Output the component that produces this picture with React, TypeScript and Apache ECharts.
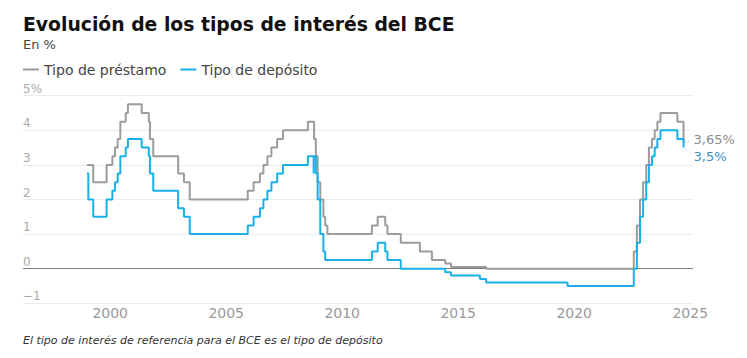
import React, { useEffect, useRef } from "react";
import * as echarts from "echarts";

const TITLE = "Evolución de los tipos de interés del BCE";
const SUBTITLE = "En %";
const FOOTNOTE = "El tipo de interés de referencia para el BCE es el tipo de depósito";
const SERIES_NAMES = ["Tipo de préstamo", "Tipo de depósito"];

const lendingDates = [
  "1999-01-01", "1999-04-09", "1999-11-05", "2000-02-04", "2000-03-17", "2000-04-28",
  "2000-06-09", "2000-09-01", "2000-10-06", "2001-05-11", "2001-08-31", "2001-09-18",
  "2001-11-09", "2002-12-06", "2003-03-07", "2003-06-06", "2005-12-06", "2006-03-08",
  "2006-06-15", "2006-08-09", "2006-10-11", "2006-12-13", "2007-03-14", "2007-06-13",
  "2008-07-09", "2008-10-15", "2008-11-12", "2008-12-10", "2009-01-21", "2009-03-11",
  "2009-04-08", "2009-05-13", "2011-04-13", "2011-07-13", "2011-11-09", "2011-12-14",
  "2012-07-11", "2013-05-08", "2013-11-13", "2014-06-11", "2014-09-10", "2016-03-16",
  "2022-07-27", "2022-09-14", "2022-11-02", "2022-12-21", "2023-02-08", "2023-03-22",
  "2023-05-10", "2023-06-21", "2023-08-02", "2023-09-20", "2024-06-12", "2024-09-18",
];
const lendingValues = [
  3.0, 2.5, 3.0, 3.25, 3.5, 3.75,
  4.25, 4.5, 4.75, 4.5, 4.25, 3.75,
  3.25, 2.75, 2.5, 2.0, 2.25, 2.5,
  2.75, 3.0, 3.25, 3.5, 3.75, 4.0,
  4.25, 3.75, 3.25, 2.5, 2.0, 1.5,
  1.25, 1.0, 1.25, 1.5, 1.25, 1.0,
  0.75, 0.5, 0.25, 0.15, 0.05, 0.0,
  0.5, 1.25, 2.0, 2.5, 3.0, 3.5,
  3.75, 4.0, 4.25, 4.5, 4.25, 3.65,
];

const depositDates = [
  "1999-01-01", "1999-01-22", "1999-04-09", "1999-11-05", "2000-02-04", "2000-03-17",
  "2000-04-28", "2000-06-09", "2000-09-01", "2000-10-06", "2001-05-11", "2001-08-31",
  "2001-09-18", "2001-11-09", "2002-12-06", "2003-03-07", "2003-06-06", "2005-12-06",
  "2006-03-08", "2006-06-15", "2006-08-09", "2006-10-11", "2006-12-13", "2007-03-14",
  "2007-06-13", "2008-07-09", "2008-10-08", "2008-10-09", "2008-11-12", "2008-12-10",
  "2009-01-21", "2009-03-11", "2009-04-08", "2011-04-13", "2011-07-13", "2011-11-09",
  "2011-12-14", "2012-07-11", "2014-06-11", "2014-09-10", "2015-12-09", "2016-03-16",
  "2019-09-18", "2022-07-27", "2022-09-14", "2022-11-02", "2022-12-21", "2023-02-08",
  "2023-03-22", "2023-05-10", "2023-06-21", "2023-08-02", "2023-09-20", "2024-06-12",
  "2024-09-18",
];
const depositValues = [
  2.75, 2.0, 1.5, 2.0, 2.25, 2.5,
  2.75, 3.25, 3.5, 3.75, 3.5, 3.25,
  2.75, 2.25, 1.75, 1.5, 1.0, 1.25,
  1.5, 1.75, 2.0, 2.25, 2.5, 2.75,
  3.0, 3.25, 2.75, 3.25, 2.75, 2.0,
  1.0, 0.5, 0.25, 0.5, 0.75, 0.5,
  0.25, 0.0, -0.1, -0.2, -0.3, -0.4,
  -0.5, 0.0, 0.75, 1.5, 2.0, 2.5,
  3.0, 3.25, 3.5, 3.75, 4.0, 3.75,
  3.5,
];

const xTickYears = [2000, 2005, 2010, 2015, 2020, 2025];
const yMin = -1;
const yMax = 5;

const GRAY = "#9c9c9c";
const BLUE = "#19b0e8";
const FONT = "DejaVu Sans";

function toYear(d: string): number {
  const [y, m, day] = d.split("-").map(Number);
  const start = Date.UTC(y, 0, 1);
  const end = Date.UTC(y + 1, 0, 1);
  return y + (Date.UTC(y, m - 1, day) - start) / (end - start);
}

function fmtPct(v: number): string {
  return String(v).replace(".", ",") + "%";
}

export default function App() {
  const ref = useRef<HTMLDivElement>(null);
  useEffect(() => {
    if (!ref.current) return;
    const chart = echarts.init(ref.current, undefined, { renderer: "svg" });
    const lendingData = lendingDates.map((d, i) => [toYear(d), lendingValues[i]]);
    const depositData = depositDates.map((d, i) => [toYear(d), depositValues[i]]);

    chart.setOption({
      animation: false,
      title: [
        {
          text: TITLE,
          left: 23,
          top: 14.5,
          padding: 0,
          textStyle: { fontFamily: FONT, fontSize: 18.8, fontWeight: "bold", color: "#111" },
        },
        {
          text: SUBTITLE,
          left: 23,
          top: 38,
          padding: 0,
          textStyle: { fontFamily: FONT, fontSize: 13, fontWeight: "normal", color: "#444" },
        },
        {
          text: FOOTNOTE,
          left: 23,
          top: 334.5,
          padding: 0,
          textStyle: {
            fontFamily: FONT,
            fontSize: 11,
            fontStyle: "italic",
            fontWeight: "normal",
            color: "#333",
          },
        },
      ],
      legend: {
        left: 23,
        top: 62.5,
        padding: 0,
        itemWidth: 16,
        itemHeight: 2,
        itemGap: 14,
        icon: "rect",
        textStyle: { fontFamily: FONT, fontSize: 14, color: "#444" },
        data: SERIES_NAMES,
      },
      grid: { left: 23, right: 54, top: 95.7, bottom: 54.7, containLabel: false },
      xAxis: {
        type: "value",
        min: 1996.241,
        max: 2025.12,
        axisLine: { show: false },
        axisTick: { show: false },
        splitLine: { show: false },
        axisLabel: {
          customValues: xTickYears,
          formatter: (v: number) => String(Math.round(v)),
          color: "#9a9a9a",
          fontFamily: FONT,
          fontSize: 14,
          margin: 3,
        },
      },
      yAxis: {
        type: "value",
        min: yMin,
        max: yMax,
        interval: 1,
        axisLine: { show: false },
        axisTick: { show: false },
        splitLine: { lineStyle: { color: "#ebebeb", width: 1 } },
        axisLabel: {
          inside: true,
          margin: 0,
          align: "left",
          verticalAlign: "bottom",
          padding: [0, 0, 1, 0],
          color: "#ababab",
          fontFamily: FONT,
          fontSize: 12,
          formatter: (v: number) => (v === yMax ? v + "%" : v < 0 ? "\u2212" + Math.abs(v) : String(v)),
        },
      },
      series: [
        {
          name: SERIES_NAMES[0],
          type: "line",
          step: "end",
          data: lendingData,
          showSymbol: false,
          symbol: "none",
          lineStyle: { color: GRAY, width: 2 },
          itemStyle: { color: GRAY },
          z: 2,
          markLine: {
            silent: true,
            symbol: "none",
            label: { show: false },
            lineStyle: { color: "#7a7a7a", width: 1.2, type: "solid" },
            data: [{ yAxis: 0 }],
            z: 1,
          },
        },
        {
          name: SERIES_NAMES[1],
          type: "line",
          step: "end",
          data: depositData,
          showSymbol: false,
          symbol: "none",
          lineStyle: { color: BLUE, width: 2 },
          itemStyle: { color: BLUE },
          z: 3,
        },
      ],
    });

    const lastL = lendingData[lendingData.length - 1];
    const lastD = depositData[depositData.length - 1];
    const pL = chart.convertToPixel({ gridIndex: 0 }, lastL) as number[];
    const pD = chart.convertToPixel({ gridIndex: 0 }, lastD) as number[];

    chart.setOption({
      graphic: [
        {
          type: "line",
          shape: { x1: pL[0] + 2, y1: pL[1], x2: pL[0] + 8, y2: pL[1] - 2 },
          style: { stroke: "#aaaaaa", lineWidth: 1, lineDash: [1, 2] },
        },
        {
          type: "line",
          shape: { x1: pD[0] + 2, y1: pD[1] + 1, x2: pD[0] + 8, y2: pD[1] + 7 },
          style: { stroke: "#7cc6ea", lineWidth: 1, lineDash: [1, 2] },
        },
        {
          type: "text",
          x: pL[0] + 10,
          y: pL[1] - 2.5,
          style: {
            text: fmtPct(lastL[1] as number),
            fill: "#8a8a8a",
            font: `13px "${FONT}"`,
            textAlign: "left",
            textVerticalAlign: "middle",
          },
        },
        {
          type: "text",
          x: pD[0] + 10,
          y: pD[1] + 9,
          style: {
            text: fmtPct(lastD[1] as number),
            fill: "#3f8fc8",
            font: `13px "${FONT}"`,
            textAlign: "left",
            textVerticalAlign: "middle",
          },
        },
      ],
    });

    return () => chart.dispose();
  }, []);

  return (
    <div
      ref={ref}
      style={{ position: "absolute", left: 0, top: 0, width: 747, height: 358 }}
    />
  );
}
